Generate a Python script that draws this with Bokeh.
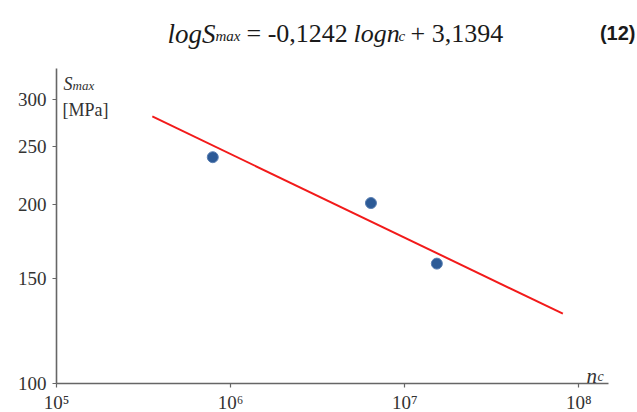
from bokeh.plotting import figure
from bokeh.models import FixedTicker, CustomJSTickFormatter, Label
from bokeh.embed import file_html
from bokeh.resources import INLINE

# data
n_points = [7.9e5, 6.4e6, 1.53e7]
s_points = [240, 201, 159]
n_fit = [3.55e5, 8.1e7]
s_fit = [281, 131]
x_ticks = [1e5, 1e6, 1e7, 1e8]
y_ticks = [100, 150, 200, 250, 300]
x_axis_span = (1e5, 1.48e8)
y_axis_span = (100, 338)

p = figure(frame_width=581, frame_height=383, x_axis_type="log", y_axis_type="log",
           x_range=(1e5, 2.174e8), y_range=(100, 440),
           output_backend="svg", toolbar_location=None,
           min_border_left=56, min_border_right=0,
           min_border_top=0, min_border_bottom=29)
p.outline_line_color = None
p.xgrid.visible = False
p.ygrid.visible = False
p.background_fill_color = "white"

p.line(n_fit, s_fit, line_color="#f21a1a", line_width=2)
p.scatter(n_points, s_points, size=11, fill_color="#2c5a96",
          line_color="#5a7fb3", line_width=1)

for ax in (p.xaxis[0], p.yaxis[0]):
    ax.axis_line_color = "#666666"
    ax.axis_line_width = 1.6
    ax.major_tick_line_color = "#666666"
    ax.major_tick_line_width = 1.2
    ax.major_tick_in = 0
    ax.major_tick_out = 4
    ax.minor_tick_line_color = None
    ax.major_label_text_font = "Liberation Serif"
    ax.major_label_text_font_size = "19px"
    ax.major_label_text_color = "#333333"

p.xaxis.bounds = x_axis_span
p.yaxis.bounds = y_axis_span
p.xaxis.ticker = FixedTicker(ticks=x_ticks)
p.yaxis.ticker = FixedTicker(ticks=y_ticks)
p.xaxis.formatter = CustomJSTickFormatter(code="""
const sup = {5: "\u2075", 6: "\u2076", 7: "\u2077", 8: "\u2078"};
const e = Math.round(Math.log10(tick));
return "10" + sup[e];
""")
p.yaxis.formatter = CustomJSTickFormatter(code="return String(Math.round(tick));")
p.xaxis.major_label_standoff = 4
p.yaxis.major_label_standoff = 6


def add_text(txt, xi, yi, size, style="normal", font="Liberation Serif",
             align="left", color="#1a1a1a"):
    p.add_layout(Label(x=xi - 56, y=383 - yi, x_units="screen", y_units="screen",
                       text=txt, text_font=font, text_font_size=f"{size}px",
                       text_font_style=style, text_align=align,
                       text_baseline="alphabetic", text_color=color))


# equation
add_text("logS", 167, 33, 27, "italic")
add_text("max", 215, 35, 15, "italic")
add_text("= -0,1242", 246, 33, 26)
add_text("logn", 353, 33, 26, "italic")
add_text("c", 398, 35, 15, "italic")
add_text("+ 3,1394", 410, 33, 26)
add_text("(12)", 635, 32, 20, "bold", "Liberation Sans", "right")

# axis titles
add_text("S", 63, 83, 18, "italic", color="#333333")
add_text("max", 72, 85, 13, "italic", color="#333333")
add_text("[MPa]", 62, 109, 18, color="#333333")
add_text("n", 586, 375, 21, "italic", color="#333333")
add_text("c", 597, 376, 14, "italic", color="#333333")

open("out.html", "w").write(file_html(p, INLINE))
